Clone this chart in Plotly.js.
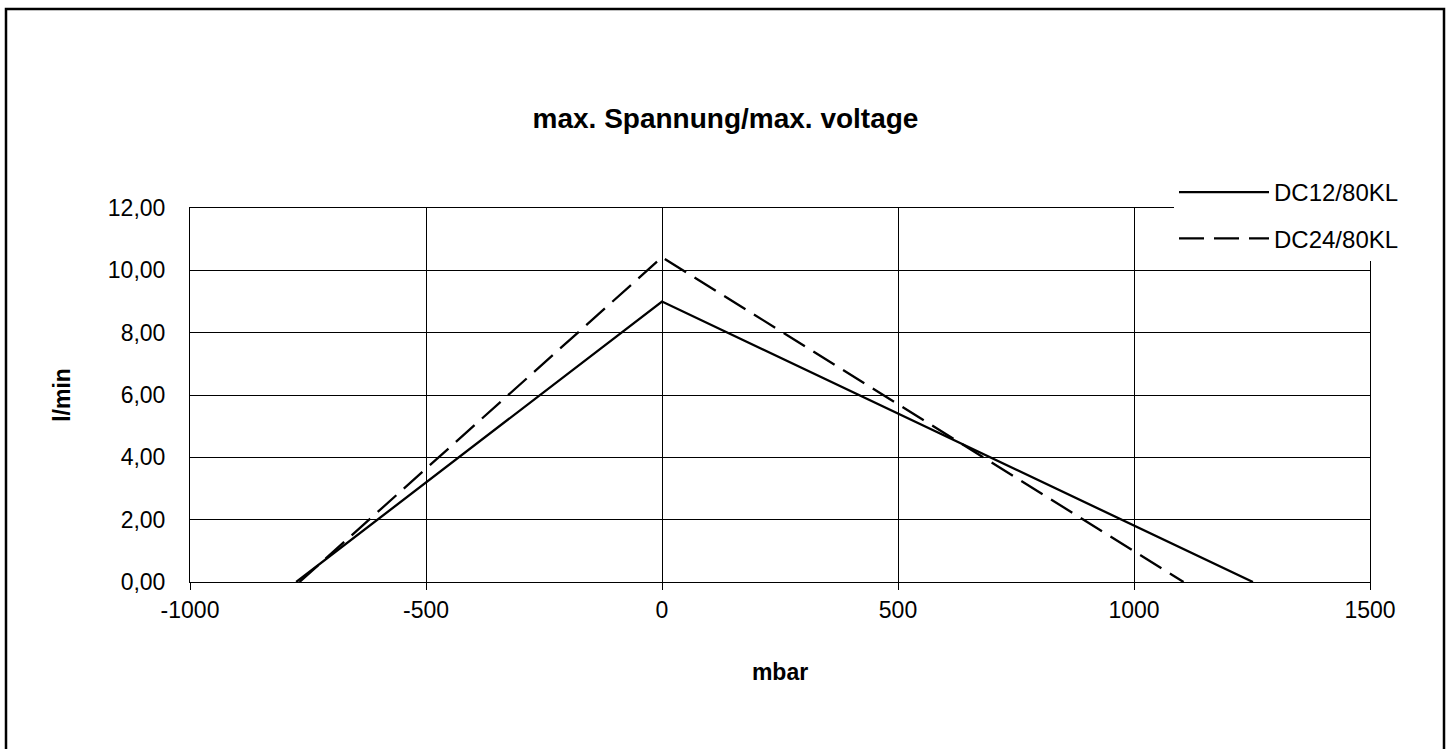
<!DOCTYPE html>
<html>
<head>
<meta charset="utf-8">
<script src="https://cdn.plot.ly/plotly-3.0.1.min.js"></script>
<style>html,body{margin:0;padding:0;background:#fff;}#chart{width:1451px;height:749px;}</style>
</head>
<body>
<div id="chart"></div>
<script>
// Data
const seriesNames = ["DC12/80KL", "DC24/80KL"];
const dc12X = [-775, 0, 1252];
const dc12Y = [0.00, 9.00, 0.00];
const dc24X = [-768, 0, 1105];
const dc24Y = [0.00, 10.42, 0.00];
const xTicks = [-1000, -500, 0, 500, 1000, 1500];
const yTicks = [0, 2, 4, 6, 8, 10, 12];
const chartTitle = "max. Spannung/max. voltage";
const xTitle = "mbar";
const yTitle = "l/min";

const FONT = "Liberation Sans, Arial, sans-serif";

const traces = [
  {x: dc12X, y: dc12Y, name: seriesNames[0], type: "scatter", mode: "lines",
   line: {color: "#000", width: 2.3}, legendgroup: "a"},
  {x: dc24X, y: dc24Y, name: seriesNames[1], type: "scatter", mode: "lines",
   line: {color: "#000", width: 2.3, dash: "25px,10px"}, legendgroup: "b"}
];

const layout = {
  width: 1451, height: 749,
  paper_bgcolor: "#fff", plot_bgcolor: "#fff",
  separators: ", ",
  margin: {l: 190, r: 81, t: 208, b: 167},
  font: {family: FONT, color: "#000", size: 23},
  title: {text: "<b>" + chartTitle + "</b>", font: {family: FONT, size: 28, color: "#000"},
          xref: "container", x: 0.5, xanchor: "center", yref: "container", y: 1 - 118/749, yanchor: "middle"},
  xaxis: {
    range: [-1000, 1500], tickvals: xTicks, ticktext: xTicks.map(String),
    showgrid: true, gridcolor: "#000", gridwidth: 1,
    showline: true, linecolor: "#000", linewidth: 1, mirror: true,
    ticks: "outside", ticklen: 7, tickcolor: "#000", tickwidth: 1,
    zeroline: false, tickfont: {size: 23, family: FONT, color: "#000"},
    title: {text: "<b>" + xTitle + "</b>", font: {size: 23, family: FONT, color: "#000"}, standoff: 42},
    automargin: false
  },
  yaxis: {
    range: [0, 12], tickvals: yTicks, tickformat: ".2f",
    showgrid: true, gridcolor: "#000", gridwidth: 1,
    showline: true, linecolor: "#000", linewidth: 1, mirror: true,
    ticks: "", ticklabelstandoff: 19,
    zeroline: false, tickfont: {size: 23, family: FONT, color: "#000"},
    title: {text: "<b>" + yTitle + "</b>", font: {size: 23, family: FONT, color: "#000"}, standoff: 30},
    automargin: false
  },
  legend: {
    x: (1174 - 190) / 1180, xanchor: "left", y: (582 - 170) / 374, yanchor: "top",
    bgcolor: "#fff", borderwidth: 0, traceorder: "grouped", tracegroupgap: 12,
    itemwidth: 90, font: {size: 24, family: FONT, color: "#000"}
  },
  showlegend: true,
  shapes: [
    {type: "rect", xref: "paper", yref: "paper",
     x0: (6 - 190) / 1180, x1: (1444 - 190) / 1180,
     y0: (582 - 770) / 374, y1: (582 - 9) / 374,
     line: {color: "#000", width: 2.5}, fillcolor: "rgba(0,0,0,0)"}
  ]
};

Plotly.newPlot("chart", traces, layout, {displayModeBar: false, staticPlot: true});
</script>
</body>
</html>
